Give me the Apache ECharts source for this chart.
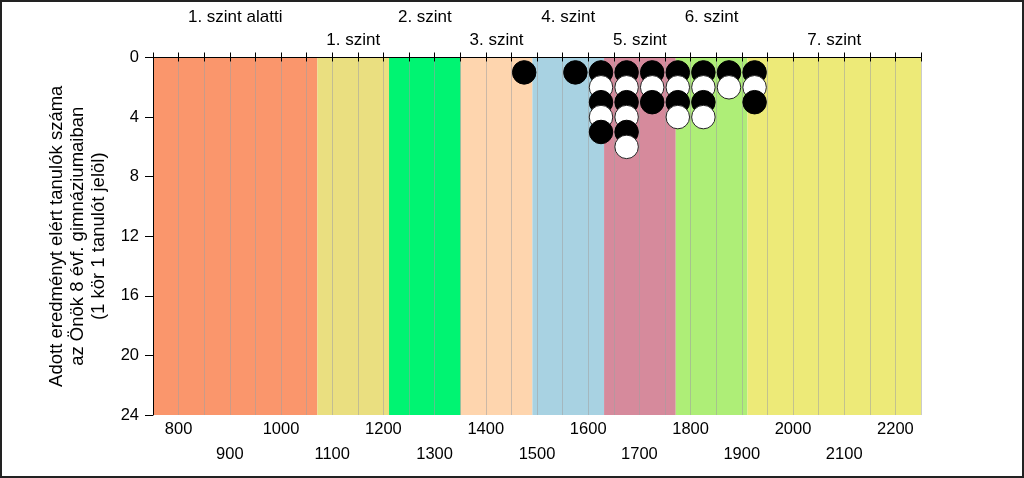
<!DOCTYPE html>
<html>
<head>
<meta charset="utf-8">
<script src="https://cdn.jsdelivr.net/npm/echarts@6/dist/echarts.min.js"></script>
<style>
  html, body { margin: 0; padding: 0; background: #fff; }
  #chart { width: 1024px; height: 478px; }
</style>
</head>
<body>
<div id="chart"></div>
<script>
// képességszintek (levels) and their score limits
var levelNames = ['1. szint alatti', '1. szint', '2. szint', '3. szint', '4. szint', '5. szint', '6. szint', '7. szint'];
var levelBounds = [750, 1071, 1211, 1351, 1491, 1631, 1771, 1911, 2250];
// students: score bin centre and number of students in the bin
var binCenters = [1475, 1575, 1625, 1675, 1725, 1775, 1825, 1875, 1925];
var studentCounts = [1, 1, 5, 6, 3, 4, 4, 2, 3];
var yTicks = [0, 4, 8, 12, 16, 20, 24];

var levelColors = ['#FA966C', '#EADF80', '#00F472', '#FED5AE', '#A8D2E2', '#D68A9C', '#AEEE77', '#EDEA78'];
var font = 'Liberation Sans, Arial, sans-serif';

var chart = echarts.init(document.getElementById('chart'));

// bands with labels above the plot, alternating rows
var bands = levelNames.map(function (name, i) {
  return [
    {
      name: name,
      xAxis: levelBounds[i],
      itemStyle: { color: levelColors[i], opacity: 1 },
      label: { distance: i % 2 === 0 ? 32 : 9 }
    },
    { xAxis: levelBounds[i + 1] }
  ];
});

// one circle per student, stacked, alternating black / white
var points = [];
binCenters.forEach(function (x, i) {
  for (var k = 1; k <= studentCounts[i]; k++) {
    var black = k % 2 === 1;
    points.push({
      value: [x, k],
      itemStyle: {
        color: black ? '#000' : '#fff',
        borderColor: black ? '#000' : '#222',
        borderWidth: 1,
        opacity: 1
      }
    });
  }
});

var xMin = levelBounds[0], xMax = levelBounds[levelBounds.length - 1];

var option = {
  animation: false,
  grid: { left: 153, right: 103, top: 57.5, bottom: 63 },
  graphic: [{
    type: 'rect',
    shape: { x: 1, y: 1, width: 1022, height: 476 },
    style: { fill: 'none', stroke: '#222', lineWidth: 2 },
    silent: true
  }],
  xAxis: [
    {
      type: 'value', position: 'bottom', min: xMin, max: xMax, interval: 50, z: 2,
      axisLine: { lineStyle: { color: '#000', width: 1 } },
      axisTick: { length: 4, lineStyle: { color: '#000' } },
      splitLine: { show: true, lineStyle: { color: 'rgba(160,160,160,0.55)', width: 1 } },
      axisLabel: {
        color: '#000', fontSize: 16.5, fontFamily: font, margin: 6,
        showMinLabel: true, showMaxLabel: true,
        formatter: function (v) { return (v % 200 === 0) ? String(v) : ''; }
      }
    },
    {
      type: 'value', position: 'bottom', offset: 24.5, min: xMin, max: xMax, interval: 50,
      axisLine: { show: false }, axisTick: { show: false }, splitLine: { show: false },
      axisLabel: {
        color: '#000', fontSize: 16.5, fontFamily: font, margin: 6,
        formatter: function (v) { return (v % 200 === 100) ? String(v) : ''; }
      }
    },
    {
      type: 'value', position: 'top', min: xMin, max: xMax, interval: 50, z: 2,
      axisLine: { lineStyle: { color: '#000', width: 1 } },
      axisTick: { length: 5, lineStyle: { color: '#000' } },
      axisLabel: { show: false }, splitLine: { show: false }
    }
  ],
  yAxis: {
    type: 'value', inverse: true, min: yTicks[0], max: yTicks[yTicks.length - 1], interval: 4, z: 2,
    name: 'Adott eredményt elért tanulók száma\naz Önök 8 évf. gimnáziumaiban\n(1 kör 1 tanulót jelöl)',
    nameLocation: 'middle', nameGap: 43,
    nameTextStyle: { color: '#000', fontSize: 18.5, fontFamily: font, lineHeight: 21 },
    axisLine: { show: true, lineStyle: { color: '#000', width: 1 } },
    axisTick: { show: true, length: 8, lineStyle: { color: '#000' } },
    splitLine: { show: false },
    axisLabel: { color: '#000', fontSize: 16.5, fontFamily: font, margin: 14 }
  },
  series: [
    {
      name: 'szintek', type: 'line', data: [], z: 1, silent: true,
      markArea: {
        silent: true,
        label: { show: true, position: 'top', color: '#000', fontSize: 17, fontFamily: font },
        data: bands
      }
    },
    {
      name: 'tanulók', type: 'scatter', z: 3, symbol: 'circle', symbolSize: 23.5,
      data: points, silent: true
    }
  ]
};

chart.setOption(option);
</script>
</body>
</html>
